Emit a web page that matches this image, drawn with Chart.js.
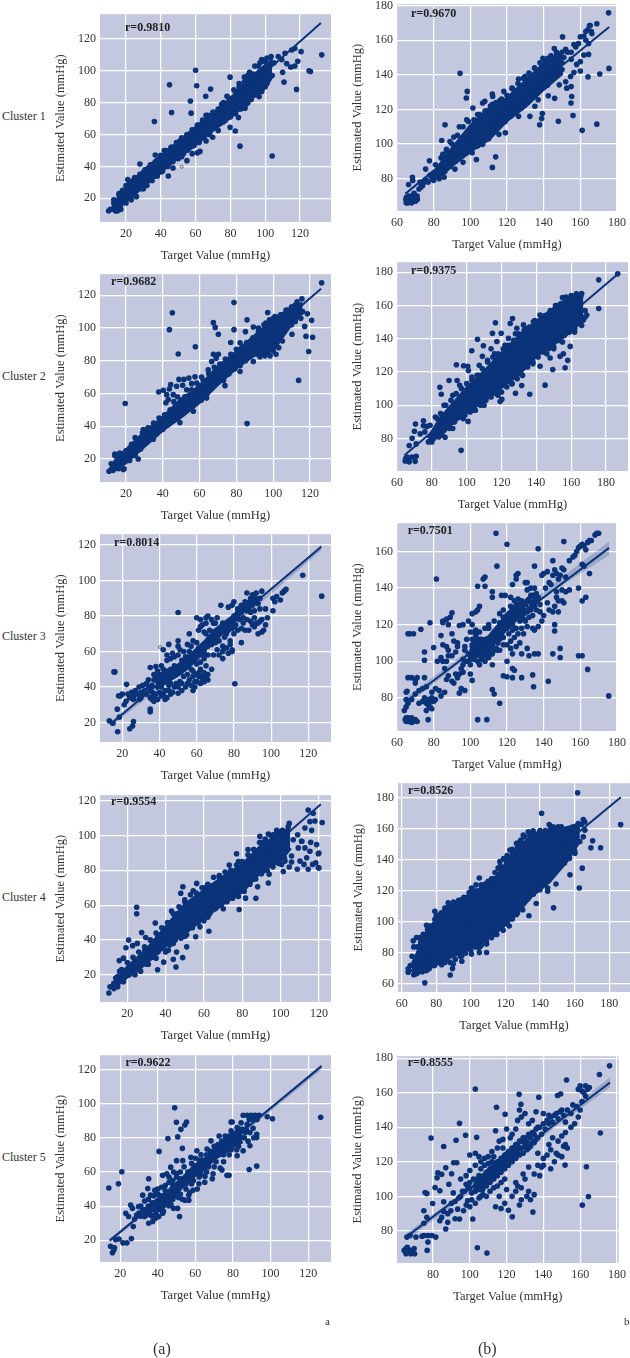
<!DOCTYPE HTML>
<html>
<head>
	<title>Estimated vs target value</title>
	<script src="https://cdn.jsdelivr.net/npm/chart.js@4"></script>
	<style>
		body { margin: 0; background: #fff; width: 630px; height: 1358px; overflow: hidden; position: relative; font-family: "Liberation Serif", serif; color: #333; }
		canvas { position: absolute; }
		.txt { position: absolute; white-space: nowrap; line-height: 14px; }
		.r { font-weight: bold; font-size: 12px; color: #222; }
		.cl { font-size: 12px; }
	</style>
</head>
<body>
	<script>
		// tick labels
		const leftTicks = [20, 40, 60, 80, 100, 120];
		const rightTicks = [60, 80, 100, 120, 140, 160, 180];
		const rightTicksNo60 = [80, 100, 120, 140, 160, 180];
		const shortTicks = [80, 100, 120, 140, 160];
		const rowNames = ["Cluster 1", "Cluster 2", "Cluster 3", "Cluster 4", "Cluster 5"];

		// Cluster 1, column a
		const c1a_r = "r=0.9810";
		const c1a_pts = [[60,100.3],[45,91.2],[60.6,90.6],[68.6,88.5],[65.8,84],[57,81],[46.2,73.8],[57.4,73.4],[36.3,68.2],[79.8,96],[98,107],[118,88.3],[110.8,92.9],[125.2,100],[126,99.5],[132.5,110],[104,46.5],[85.5,52.7],[82.8,62.2],[79.8,64.5],[62.5,49.4],[61,48.5],[55,43.6],[36.8,47.1],[28,41.5],[21,31.8],[44.3,34],[120.6,112],[117,114],[115.2,113],[111.4,111],[107.5,109],[103.4,109],[112.3,104.5],[117,103],[114.6,102.4],[110,99],[109.5,107],[118.7,106],[96,92.5],[96.5,83.8],[91.3,83],[88.4,76.5],[84.6,70.7],[69.8,58.3],[76,68],[73,62.5],[66,56],[58,48],[52,46],[47,39],[40,36.5],[33,31],[30,26],[25,22],[20,19],[17,16],[14,13],[10,12],[11,13],[15,12],[13,17],[16,22],[19,25],[24,31],[27,33],[33,38],[38,44],[42,50],[46,52],[51,56],[56,60],[62,66],[66,72],[70,74],[75,79],[78,84],[83,87],[85,90],[88,93],[90,97],[93,98],[96,103],[99,106],[101,108],[105,105],[100,90],[102,95],[98,87],[94,86],[90,80],[86,78],[80,72],[73,67],[68,60],[62,56],[55,50],[50,45],[44,40],[37,34],[28,28],[23,22]];
		const c1a_edge = [[13,19],[16,23],[18,25],[20,28],[22,30],[25,33],[28,35],[31,38],[34,41],[37,43],[40,47],[43,50],[46,52],[49,55],[52,58],[55,60],[58,63],[61,66],[64,69],[67,72],[70,74],[73,76],[76,80],[79,83],[82,88],[85,92],[88,96],[91,99],[94,103],[97,105],[100,106],[103,108],[14,12],[17,13],[20,17],[23,19],[26,21],[29,26],[32,28],[35,31],[38,34],[41,37],[44,41],[47,43],[50,45],[53,48],[56,51],[59,53],[62,55],[65,60],[68,62],[71,65],[74,67],[77,69],[80,71],[83,73],[86,76],[89,79],[92,82],[95,85],[98,88],[101,92],[104,97]];
		const c1a_open = [[52,39.7]];
		const c1a_coreX = [12, 15, 20, 25, 30, 40, 50, 60, 70, 80, 90, 100, 104];
		const c1a_coreHi = [13, 19, 26, 31, 37, 46, 55, 64, 73, 82, 94, 103, 106];
		const c1a_coreLo = [12, 14, 19, 23, 28, 37, 46, 54, 63, 71, 81, 90, 97];
		const c1a_fitX = [10, 132];
		const c1a_fitY = [12, 130];

		// Cluster 2, column a
		const c2a_r = "r=0.9682";
		const c2a_pts = [[78.7,115.6],[45.2,109.3],[43.6,99],[67.5,103.3],[68.5,100.4],[70.2,96.2],[78.7,99],[85.8,105],[84.9,97.8],[97,109.5],[57.7,88.5],[48.4,84.1],[76.9,91.2],[19.6,53.9],[85.8,41.6],[113.8,68],[119.3,85.7],[121.4,94.4],[117.8,95],[120.9,104.7],[117.1,101],[118.6,108.7],[110.2,96.2],[126.3,127.6],[115.6,117.8],[37.8,60.9],[40.3,61.9],[43.6,62.7],[44.3,65.4],[47.5,64.4],[48.8,68.6],[51.5,68.6],[54.2,69.4],[57.5,70.2],[61.1,70],[50.8,65],[55.7,66],[58.4,66.4],[53,62.3],[55.7,62.3],[42.1,59.3],[43,56.3],[45.7,59.3],[41.7,54.3],[67.5,84],[70.2,84],[69,81.5],[66.6,79.5],[64.7,74.4],[82,91],[85.6,91.2],[81,86.5],[92.8,82.5],[95.5,83],[98.3,83],[101.5,84],[89.2,79.5],[82,73.4],[73.8,64.8],[63.8,57.3],[56.6,49.2],[49.3,42.2],[34.9,32],[26.7,20],[18.6,13.5],[12,13.5],[10.8,12.5],[14,23],[16.7,23.6],[25,33],[29.4,38],[89.2,100.6],[48,58],[52,58],[50,55],[46,55],[60,65],[64,67],[112,114],[108,111],[104,108],[100,106],[96,103],[92,100],[110,102],[105,92],[100,90],[95,88],[114,112],[116,110]];
		const c2a_edge = [[12,17],[14,22],[17,23],[20,25],[23,29],[26,32],[29,36],[32,39],[35,42],[38,45],[41,47],[44,50],[47,53],[50,56],[53,58],[56,60],[59,63],[62,68],[65,72],[68,76],[71,78],[74,81],[77,84],[80,87],[83,88],[86,91],[89,94],[92,98],[95,102],[98,105],[101,107],[104,108],[107,111],[110,113],[113,116],[13,13],[16,14],[19,14],[22,19],[25,22],[28,26],[31,30],[34,33],[37,36],[40,38],[43,41],[46,44],[49,47],[52,50],[55,52],[58,54],[61,56],[64,60],[67,64],[70,67],[73,68],[76,72],[79,75],[82,77],[85,80],[88,83],[91,84],[94,85],[97,85],[100,86],[103,88],[106,98],[109,102],[112,104],[115,106]];
		const c2a_open = [];
		const c2a_coreX = [12, 15, 20, 30, 40, 50, 60, 70, 80, 90, 100, 110, 116];
		const c2a_coreHi = [14, 20, 25, 36, 45, 56, 64, 76, 85, 95, 105, 112, 115];
		const c2a_coreLo = [13, 14, 18, 28, 38, 46, 55, 66, 76, 84, 87, 103, 110];
		const c2a_fitX = [11, 126];
		const c2a_fitY = [13, 124];

		// Cluster 3, column a
		const c3a_r = "r=0.8014";
		const c3a_pts = [[16,48.5],[15.5,48.5],[13,21],[15,19.5],[17.5,14.8],[17.3,27.5],[18,35],[19,35],[22.3,41.5],[18.4,23],[21,30],[22,32],[24,16.5],[25.5,18],[26,20.5],[35,26],[35,27.5],[50,82],[80.5,41.8],[117,103],[127.2,91.2],[23,36],[25,37],[27,38],[26,35],[28,36],[30,37],[30,34],[32,38],[33,42],[34,44],[33,36],[35,34],[36,33],[37,35],[38,36],[35,38],[36,41],[37,44],[38,46],[35,51],[38,51.5],[40,47],[39,43],[41,40],[40,37],[42,36],[44,34],[45,38],[46,42],[43,43],[42,47],[41,52],[44,55],[46,50],[48,52],[49,48],[47,46],[48,40],[50,36.5],[52,38],[54,40],[51,43],[53,46],[56,44],[58,46],[58,38],[62,42],[64,43],[66,47],[68,50],[66,44],[64,48],[62,50],[60,47],[57,50],[54,52],[52,55],[50,58],[47,59],[45,64],[42,61],[44,58],[50,66],[50,63],[53,60],[55,64],[56,57],[58,56],[60,60],[62,58],[64,56],[65,52],[63,63],[60,65],[58,66],[56,70],[61,72],[62,78],[60,79],[63,75],[65,70],[67,68],[66,63],[66,80],[65,76],[68,78],[70,76],[72,72],[70,69],[72,66],[74,63],[76,62],[79,61],[78,66],[75,68],[74,71],[76,74],[78,76],[80,74],[82,72],[84,65],[77,59],[79,60],[72,58],[74,56],[73,86],[80,88],[79,86],[77,85],[82,79],[80,80],[84,82],[86,85],[87,93],[87,78],[85,76],[88,72],[90,75],[92,76],[94,77],[97,75],[93,70],[96,72],[95,71],[88,87],[90,92],[92,90],[93,87],[95,94],[91,83],[94,84],[97,84],[98,79],[101,90],[102,88],[103,91],[105,89],[101,83],[106,93],[108,95],[107,94],[90,88],[89,90],[92,93]];
		const c3a_edge = [[20,36],[24,34],[26,33],[29,33],[31,41],[29,40],[31,36],[34,40],[36,37],[37,32],[39,33],[41,35],[43,38],[45,41],[44,45],[42,50],[39,49],[37,47],[40,44],[43,33],[46,36],[47,37],[49,42],[50,40],[52,42],[55,42],[57,41],[59,40],[60,43],[61,46],[63,46],[55,47],[53,50],[51,49],[49,51],[46,47],[44,49],[48,57],[46,56],[51,61],[54,57],[56,60],[57,63],[59,59],[61,62],[62,61],[64,59],[66,58],[68,64],[70,65],[71,70],[73,73],[69,71],[67,72],[64,71],[62,74],[65,79],[69,76],[71,79],[74,76],[76,70],[75,75],[77,72],[79,73],[81,75],[83,78],[85,79],[82,84],[84,86],[86,88],[88,84],[90,86],[92,88],[94,90],[90,90],[87,83],[89,82],[91,79],[93,76],[95,78],[91,74],[89,77],[86,72],[84,73],[80,70],[78,64],[74,60],[71,61],[69,58],[64,61],[58,49],[60,53],[62,54],[65,46],[63,44],[61,48],[59,43]];
		const c3a_open = [[40.3,62.5]];
		const c3a_coreX = [38, 45, 50, 55, 60, 65, 70, 75, 80, 85, 92];
		const c3a_coreHi = [43, 48, 52, 56, 61, 66, 72, 76, 80, 86, 91];
		const c3a_coreLo = [39, 44, 47, 51, 56, 62, 67, 72, 77, 84, 88];
		const c3a_fitX = [13.4, 127];
		const c3a_fitY = [18.9, 119];
		const c3a_ciX = [13.4, 60, 127];
		const c3a_ciHi = [20.5, 57.5, 120.5];
		const c3a_ciLo = [17.5, 56, 117];

		// Cluster 4, column a
		const c4a_r = "r=0.9554";
		const c4a_pts = [[24.9,58.8],[24.9,55],[20.7,39.9],[19.3,35.5],[22.8,36.7],[25.2,38],[27.5,44.2],[29.6,41.4],[15.8,28.1],[18,29.5],[34.6,49.7],[49,70.6],[47.9,66.8],[43.1,56.6],[54.4,68.3],[56.2,72.5],[62.6,45],[45.4,24.4],[35.8,22.8],[39,27.2],[44,28.9],[48.9,29.8],[45.7,33],[51,36],[35,29.5],[29.2,34.2],[41.4,34],[55.7,41.8],[57.9,47.5],[78.4,57.5],[81.7,64],[87.1,63.9],[88,70.6],[77,89.5],[73.2,83],[83,92],[89.2,99.5],[93.6,100.9],[94,77.8],[93.6,72.7],[101.4,79.3],[104.5,81.9],[108.7,80.6],[114.4,80.6],[118.4,84.4],[119.7,81.6],[116.7,83.4],[112.2,83.4],[110.1,85.3],[105.7,84.8],[102.3,85.3],[100.5,83.4],[113.6,87.2],[119.7,89.5],[115.3,91],[118.8,94.8],[115.7,96.1],[111,96.7],[112.7,92.9],[109.2,92.9],[105.7,88.2],[114.4,114.7],[117,112.8],[115.3,108],[117.9,108.4],[121.7,107.5],[116.2,103],[112.7,104.3],[104.5,107],[100.5,102.4],[96.2,100.5],[108.9,100.5],[111,96.7],[106.6,97.6],[103.1,94.8],[97.9,91],[94.3,84.4],[91,79.7],[85.7,74.9],[82.3,74],[77,67.3],[70.1,57.9],[120,90],[120,81.3],[10.4,9.5],[11,13],[13,12],[16,22],[15,19],[13,15],[50,62],[46,55],[42,48],[36,42],[33,39],[64,71],[68,76],[60,70],[72,78],[78,85],[86,92],[90,96],[98,103],[62,53],[66,59],[70,64],[74,66],[82,80],[86,78],[94,88],[44,38],[40,33],[31,26],[27,22],[24,20],[55,50],[50,42]];
		const c4a_edge = [[14,18],[17,23],[20,27],[23,30],[26,33],[29,36],[32,40],[35,44],[38,47],[41,50],[44,55],[47,59],[50,63],[53,66],[56,67],[59,70],[62,72],[65,76],[68,77],[71,79],[74,80],[77,83],[80,85],[83,89],[86,92],[89,96],[92,98],[95,100],[98,102],[101,103],[104,105],[15,13],[18,16],[21,20],[24,22],[27,25],[30,26],[33,30],[36,33],[39,35],[42,37],[45,40],[48,41],[51,43],[54,47],[57,50],[60,51],[63,55],[66,58],[69,60],[72,62],[75,64],[78,65],[81,68],[84,72],[87,75],[90,78],[93,80],[96,82],[99,84],[102,87]];
		const c4a_open = [];
		const c4a_coreX = [12, 20, 30, 40, 50, 60, 70, 80, 90, 100, 105];
		const c4a_coreHi = [13, 24, 34, 47, 60, 68, 76, 83, 94, 101, 104];
		const c4a_coreLo = [12, 19, 27, 37, 44, 53, 61, 68, 80, 86, 93];
		const c4a_fitX = [10.4, 121];
		const c4a_fitY = [12, 118];

		// Cluster 5, column a
		const c5a_r = "r=0.9622";
		const c5a_pts = [[14,50.6],[19.1,53.1],[20.9,60.1],[49,97.5],[49.9,89],[55.3,89.2],[54.4,87.4],[52.3,84.9],[45.4,79.5],[50.6,80.5],[40.7,72],[53.1,73.8],[126.6,92],[101,91.1],[98.2,92.3],[92.6,63.4],[88.6,61.4],[76.8,58],[77.9,58],[73.2,62.2],[74.1,61.2],[51.6,33.9],[26,21],[21.5,18.5],[23.6,18.5],[19.4,20.8],[17.6,20.4],[14.9,16.5],[17,15.6],[15.9,12.7],[16.6,14.2],[27,28],[23,35.8],[25.6,40.6],[26.6,38.7],[24.5,33.9],[28.8,34.8],[29.8,39.7],[32,37.7],[27.7,32.5],[33,33.9],[35.2,30],[37.3,31],[34.7,50.3],[35.2,56],[36.2,46.4],[38.4,49.3],[32,46.4],[42.6,58],[44.8,58.9],[48.4,59.9],[46.9,62.8],[50,66.6],[53.3,66.6],[57.6,68.6],[60.8,72.4],[66.2,73.4],[40.5,33.9],[45.9,40.2],[48.4,38.7],[50.6,38.7],[42.6,35.8],[54.4,43.5],[56.5,43.5],[58.7,49.3],[56.5,46.4],[65.1,57.4],[61.9,53.1],[69.4,58.9],[82.2,69.5],[85.4,72.4],[89,75.3],[92.6,80.1],[92.6,82],[85.4,93.2],[87.6,93.2],[89.7,93.2],[91.8,93.2],[93.9,93.2],[88.6,90.7],[90.7,90.7],[92.8,90.7],[87.5,87.8],[84.3,88.8],[90.7,85.5],[79.6,89.2],[79,89.2],[82.2,85.9],[72.6,81],[68.3,78.2],[75.8,81],[79,84],[86.5,83],[84.3,80.1],[38,46],[40,50],[42,46],[44,52],[46,54],[48,55],[50,57],[52,60],[39,36],[41,38],[36,35],[34,38],[33,43],[35,44],[38,41],[43,40],[46,45],[48,44],[52,47],[55,50],[58,53],[62,57],[66,60],[70,63],[75,66],[78,70],[82,73],[60,68],[63,70],[68,72],[72,76],[76,79],[80,82],[84,85],[86,80],[88,78]];
		const c5a_edge = [[30,36],[31,34],[34,35],[37,38],[39,40],[41,44],[42,42],[44,45],[45,48],[47,47],[49,50],[51,51],[52,53],[54,55],[56,55],[57,58],[59,58],[60,60],[61,62],[63,62],[64,64],[65,65],[67,66],[69,67],[71,70],[73,72],[74,74],[76,73],[77,75],[79,76],[81,78],[83,79],[83,75],[79,73],[75,70],[71,66],[67,63],[63,59],[59,55],[55,53],[51,45],[47,41],[43,37],[39,33],[35,40],[37,42],[40,47],[44,49],[48,52],[52,56],[56,60],[60,63],[64,67],[68,70],[72,74],[76,76],[80,79],[42,51],[46,57],[50,59],[54,63],[58,65],[62,67],[66,70],[70,75],[74,78],[78,81],[82,83],[85,85],[87,85],[89,83],[91,80],[45,44],[49,46],[53,44],[57,48],[61,50],[65,54],[69,56],[61,59],[37,34],[33,38],[31,40],[36,38]];
		const c5a_open = [];
		const c5a_coreX = [38, 45, 50, 55, 60, 65, 70, 75, 80, 85];
		const c5a_coreHi = [42, 48, 53, 58, 64, 67, 73, 77, 81, 84];
		const c5a_coreLo = [37, 42, 48, 54, 59, 62, 68, 71, 75, 78];
		const c5a_fitX = [14.4, 127.1];
		const c5a_fitY = [19.8, 121.9];
		const c5a_ciX = [14.4, 60, 127.1];
		const c5a_ciHi = [21, 60.5, 123.2];
		const c5a_ciLo = [18.5, 59.5, 119.8];

		// Cluster 1, column b
		const c1b_r = "r=0.9670";
		const c1b_pts = [[175.4,175.8],[169,169.5],[165.4,168.5],[150.3,161.9],[175.6,143.7],[170.6,140.5],[164.2,138.8],[169,111.5],[161,107.9],[156,116.5],[148,113.2],[137.8,111.1],[138.9,114.7],[139.3,117.6],[154.9,123.7],[155.3,127.5],[155,133.2],[152.6,132.3],[146,126.4],[142.5,127.9],[94.4,140.9],[98.3,130.4],[97.8,126.6],[86.2,111.1],[112,86.5],[113.8,92.6],[103.3,91],[84.4,102],[88.9,101.4],[101.4,120.8],[106.7,123.7],[107.9,124.7],[112,128.9],[112.2,127.5],[118.3,130.4],[126.3,137.6],[122.7,132.3],[129.8,139],[135.2,139.9],[139.6,149.5],[142.3,149.5],[145.8,155.2],[152,154.8],[156.5,157.5],[160,162],[161.9,162.3],[165,168.5],[166.3,163.8],[164.5,158],[164.5,151.8],[161.9,151.4],[160,147.6],[160,142.2],[156.5,141.3],[154.7,139],[152,136],[148.5,134.2],[64.9,67.8],[66.7,67.4],[68.4,68.4],[70.2,69.3],[71.1,68],[66.3,69.9],[69.3,71.6],[66.3,76.6],[68.4,80.8],[68.6,78.9],[72.5,77.9],[74.7,77.9],[75.6,85.5],[77.7,90.3],[85.7,80.8],[91.6,85.5],[96,89.4],[106.7,99.8],[115.6,105.6],[119.1,106.5],[126.3,116],[132.5,116],[135.2,121.8],[137,125.6],[151,150],[153,153],[155,153],[157.5,156],[159,158],[163,160],[164,166],[163,165],[166,165],[150,147],[155,149],[158,146],[85,94],[87,97],[91,104],[94,110],[98,114],[104,117],[109,119],[112,123],[116,125],[123,128],[128,133],[131,136],[136,138],[144,146],[147,151],[100,102],[104,99],[109,104],[112,108],[117,112],[122,117],[128,122],[134,127],[142,134],[146,140],[150,143]];
		const c1b_edge = [[78,82],[81,88],[84,92],[87,96],[90,100],[93,105],[96,110],[99,113],[102,114],[105,117],[108,119],[111,122],[114,124],[117,126],[120,128],[123,132],[126,135],[129,138],[132,141],[135,144],[138,147],[141,148],[144,151],[147,153],[150,153],[80,79],[83,80],[86,84],[89,87],[92,90],[95,93],[98,95],[101,95],[104,99],[107,102],[110,103],[113,107],[116,111],[119,113],[122,116],[125,119],[128,121],[131,124],[134,128],[137,131],[140,133],[143,136],[146,139],[149,141],[72,74],[73,75],[76,79],[77,78],[74,76],[79,82],[65,66],[66,68],[67,69],[68,66],[69,69],[70,67],[71,70],[66,66],[68,70],[65,69]];
		const c1b_open = [];
		const c1b_coreX = [78, 85, 90, 100, 110, 120, 130, 140, 150];
		const c1b_coreHi = [80, 90, 97, 110, 120, 126, 136, 146, 152];
		const c1b_coreLo = [79, 83, 88, 96, 103, 114, 122, 132, 141];
		const c1b_fitX = [64.5, 175.7];
		const c1b_fitY = [71.2, 167.6];

		// Cluster 2, column b
		const c2b_r = "r=0.9375";
		const c2b_pts = [[186.7,179],[175.8,175.4],[175.8,158.2],[155,164.7],[116.5,149.6],[126.3,152.2],[125,149.2],[106.2,139.7],[114.8,143.3],[119.8,143.3],[117.3,138.3],[109.6,135.8],[114,134],[102.9,132.8],[109,129.4],[94.1,124.4],[98.2,123.8],[100.6,123.5],[107.2,124],[101,120.9],[89.9,114.9],[94.5,114.9],[84.6,110.8],[85.4,106.6],[96.8,72.9],[100.8,90.3],[87.6,80.8],[70.6,88.7],[70,84.4],[68.7,80.2],[67,75.8],[71,76.8],[75.2,90.7],[75.2,87.7],[77.1,87.3],[73.3,82.8],[136.2,106.6],[128,107.2],[145,112.1],[149.4,121.5],[156.5,122.5],[158,127],[155.5,131],[159.4,135.4],[153.6,129.4],[147.9,128.4],[142.1,123.5],[120.2,103.6],[119.2,102.2],[131.6,111.9],[168.9,154.2],[167,151.2],[166,167.1],[163,166.7],[154.8,159.2],[142.1,154.2],[138.3,150.2],[132.6,148.3],[128.8,146.3],[124,140.3],[119.2,129.4],[64.7,66.5],[66.6,67.9],[68.5,68.9],[70.4,66.3],[71,69.3],[65.7,68.9],[65,68],[67,66],[83,92],[87,100],[92,106],[96,112],[103,117],[107,118],[112,127],[116,131],[122,136],[128,143],[134,146],[140,150],[146,154],[152,160],[158,163],[162,165],[165,160],[168,157],[166,148],[162,144],[155,138],[150,134],[146,131],[138,126],[132,118],[126,113],[118,106],[110,100],[104,97],[98,92],[92,86],[86,82],[80,78]];
		const c2b_edge = [[76,84],[79,88],[82,93],[85,95],[88,100],[91,103],[94,107],[97,110],[100,113],[103,115],[106,118],[109,122],[112,126],[115,129],[118,131],[121,134],[124,136],[127,139],[130,143],[133,145],[136,147],[139,151],[142,151],[145,154],[148,157],[151,160],[154,161],[157,165],[160,166],[163,167],[78,78],[81,80],[84,81],[87,85],[90,86],[93,90],[96,93],[99,94],[102,96],[105,97],[108,100],[111,103],[114,105],[117,107],[120,108],[123,111],[126,113],[129,116],[132,118],[135,123],[138,125],[141,129],[144,132],[147,134],[150,135],[153,139],[156,142],[159,144],[162,146],[165,150],[168,153]];
		const c2b_open = [];
		const c2b_coreX = [78, 85, 90, 100, 110, 120, 130, 140, 150, 160, 167];
		const c2b_coreHi = [80, 92, 98, 110, 120, 131, 141, 150, 158, 165, 166];
		const c2b_coreLo = [78, 83, 88, 96, 103, 111, 119, 130, 137, 145, 152];
		const c2b_fitX = [64.3, 187];
		const c2b_fitY = [69.9, 179];

		// Cluster 3, column b
		const c3b_r = "r=0.7501";
		const c3b_pts = [[114,170],[120,164],[137,161.5],[151,165.5],[114.5,152],[135,152],[81.5,145],[175.5,81],[164,95.5],[142.5,89],[134.5,86],[134,92.5],[123,91],[120,91.5],[118,92],[116,77],[112,84.5],[113,82],[109,68],[104,68],[64,73],[65,75],[76,73],[77,68],[65,67],[66,69],[67,67],[68,69],[69,67],[70,68],[71,67],[65,69],[67,68.5],[66,67],[68,66.5],[64.5,68],[65,83],[65.5,83.5],[66,91],[68,91],[70,90],[71,91],[70,88],[66,115],[67,115],[69,115],[73,117.5],[78,121],[75,105],[75,100.5],[80,107.5],[75,91],[65,79],[66,77],[68,79],[70,82],[72,84],[74,85],[76,86],[79,83],[81,85],[83,84],[84,81],[86,83],[72,77],[74,78],[75,80],[76,77],[77,76],[78,78],[79,80],[80,78],[81,79],[77,79],[78,75],[79,74],[85,122],[87,123],[85,121],[84,114],[85,109],[87,108],[88,106],[90,115],[91,111],[90,126.5],[89,124],[88,120],[94,119.5],[96,120],[93,110],[93,108],[90,103],[88,103],[87,100],[85,100],[82,100],[84,102],[86,96],[88,92],[87,90],[90,89],[92,93],[94,93],[93,91],[91,88],[95,85],[94,82.5],[97,84],[96,94],[100,93],[101,89.5],[92,105],[96,101],[97,108],[98,112],[99,122],[101,126],[103,127],[105,130],[104,128],[101,120],[103,117],[102,116],[104,141],[108,141],[107,145],[108,146],[112,138],[112,135],[117,136],[119,136],[122,135],[125,147],[126,148],[125,145],[123,142],[130,143],[131,143],[133,140],[135,140],[137,135],[131,139],[133,132],[138,127],[139,122],[137,119],[135,117],[134,118],[131,119],[129,115],[127,110],[125,108],[122,107],[123,104],[120,100],[123,96],[124,95],[128,91],[132,103],[135,104],[137,104],[131,107],[128,104],[145,104],[146,116.5],[146,120],[149,107],[149,102],[159,103],[161,103],[161,133],[163,135],[159,140],[165,148],[161,153],[162,152],[143,143],[145,147],[147,148],[149,147],[151,150],[148,145],[146,150],[145,155],[142,149],[140,148],[139,147],[150,151],[152,146],[144,142],[141,140],[147,138],[150,139],[152,138],[154,139],[148,133],[147,135],[150,133],[151,132],[148,127],[145,127],[143,128],[142,132],[140,125],[138,131],[136,128],[146,130],[154,155],[156,157],[158,160],[159,162],[160,163],[161,164],[162,163],[163,161],[164,165],[165,166],[166,166],[168,169],[169,170],[170,170],[157,158],[100,103],[101,106],[102,108],[103,110],[104,105],[105,112],[106,109],[107,104],[108,107],[109,110],[110,106],[111,113],[112,109],[113,116],[114,112],[115,118],[116,121],[117,115],[118,120],[119,124],[120,118],[121,122],[122,126],[123,120],[124,128],[125,124],[126,131],[127,127],[128,133],[129,128],[130,131],[131,127],[132,134],[133,128],[134,136],[135,130],[136,133],[100,98],[102,101],[104,100],[106,101],[108,100],[110,102],[112,104],[103,114],[105,116],[108,118],[110,120],[113,122],[116,126],[118,128],[120,125],[122,130],[124,133],[126,134],[114,107],[116,106],[118,109],[120,109],[122,111],[124,113],[126,115],[128,118],[130,122],[132,124],[134,125],[115,110],[118,113],[121,115],[123,117],[125,118],[127,122],[129,123],[112,98]];
		const c3b_edge = [[100,101],[101,109],[103,103],[105,107],[106,112],[107,111],[109,103],[110,110],[111,104],[112,112],[113,106],[114,115],[115,106],[116,112],[117,118],[118,124],[119,119],[120,122],[121,126],[122,120],[123,127],[124,123],[125,130],[126,126],[127,130],[128,126],[129,131],[130,127],[131,133],[132,129],[133,136],[134,131],[135,134],[136,137],[95,96],[98,100],[96,98],[99,104],[97,106],[102,104],[104,112],[106,106],[108,103],[110,118],[105,98],[101,112],[100,116]];
		const c3b_open = [];
		const c3b_coreX = [100, 105, 110, 115, 120, 125, 130];
		const c3b_coreHi = [107, 111, 113, 119, 125, 131, 132];
		const c3b_coreLo = [103, 103, 106, 113, 118, 123, 126];
		const c3b_fitX = [64.5, 175.7];
		const c3b_fitY = [77.7, 162];
		const c3b_ciX = [64.5, 110, 150, 175.7];
		const c3b_ciHi = [80, 114, 146, 165.5];
		const c3b_ciLo = [75.5, 111.5, 141.5, 158];

		// Cluster 4, column b
		const c4b_r = "r=0.8526";
		const c4b_pts = [[161.7,183.4],[140.9,170.2],[145.3,162.9],[186.6,162.9],[170.4,152.5],[169.4,148],[175,148],[164.4,134.8],[157.3,130.5],[162.7,122],[149.2,124.6],[144.4,122],[144.4,119.9],[137.8,112],[147.8,109.2],[133.6,104.1],[73.4,60.8],[88.1,65.9],[89.4,70],[94.8,74.7],[79.2,107],[74.4,97.9],[109.1,80.4],[104.9,80.4],[133.2,158.3],[136,158.9],[139.9,158.3],[141.9,156],[147.6,161.4],[150.5,161.4],[152.3,161.4],[147.6,157.2],[152.3,157.2],[156.3,160.4],[159.2,161.4],[162.1,163.6],[165,166.1],[165.9,164.6],[165.9,159.3],[165,155],[161.1,150.8],[160.2,144.4],[156.3,141.2],[152.3,136.9],[147.6,132.7],[141.9,126.3],[139.9,120.9],[134.1,117.7],[130.3,113.5],[126.4,104.9],[122.2,97.5],[118.7,94.7],[113.9,92.2],[109.1,85.8],[104.9,83.6],[100.4,79.4],[94.8,78.3],[89.8,73],[83.1,72.5],[78.3,75.1],[74.4,68.7],[68.6,66.6],[63.8,67.6],[63.8,69.8],[66.7,87.9],[68.6,90],[70.6,90],[72.5,92.2],[76.3,97.5],[79.2,101.7],[82.1,104.9],[86.9,112.4],[89.8,111.3],[94.8,114.5],[100.4,122],[104.9,128.4],[110.1,126.3],[115.8,134.8],[116.8,139],[122.6,146.5],[126.4,150.8],[130.3,156.1],[128.4,151.9],[65,72],[66,78],[67,84],[70,84],[73,88],[78,94],[84,100],[88,106],[92,110],[98,116],[103,120],[108,124],[113,128],[118,134],[120,140],[124,144],[128,148],[132,150],[70,70],[76,72],[80,74],[86,76],[92,80],[98,84],[103,86],[108,90],[112,94],[118,98],[124,102],[130,108],[136,118],[140,124],[146,130],[150,135],[156,142]];
		const c4b_edge = [[69,84],[71,87],[73,91],[75,95],[77,96],[80,104],[83,106],[85,109],[87,110],[90,113],[93,114],[96,116],[99,119],[101,121],[103,124],[106,124],[109,125],[112,128],[114,132],[117,136],[119,141],[121,143],[124,147],[127,149],[129,153],[131,155],[134,156],[137,157],[140,159],[143,159],[146,160],[149,160],[155,160],[158,161],[161,162],[164,163],[67,66],[70,68],[72,68],[76,70],[79,72],[82,74],[85,74],[88,74],[91,76],[94,78],[97,80],[100,82],[103,84],[106,85],[109,88],[112,90],[115,92],[118,96],[121,99],[124,103],[127,106],[130,112],[133,115],[136,118],[139,121],[142,125],[145,127],[148,132],[151,136],[154,138],[157,141],[160,146],[163,152]];
		const c4b_open = [];
		const c4b_coreX = [66, 75, 85, 95, 105, 115, 125, 135, 145, 155, 163];
		const c4b_coreHi = [72, 94, 108, 114, 121, 129, 145, 155, 158, 159, 161];
		const c4b_coreLo = [67, 70, 76, 81, 86, 94, 104, 117, 126, 139, 153];
		const c4b_fitX = [63.2, 186.7];
		const c4b_fitY = [66.6, 180.6];

		// Cluster 5, column b
		const c5b_r = "r=0.8555";
		const c5b_pts = [[103,162.2],[176,175.6],[170.5,170.6],[152.6,167.4],[171,136.7],[163.4,117.2],[164.5,99.9],[161.2,94.9],[151.8,118.1],[94.4,142.3],[78.9,133.8],[92.5,132.5],[85.8,128.9],[97.7,135.4],[103.7,134.2],[126.8,159.1],[137.5,157.4],[147.7,158.4],[149.4,159.3],[114.5,151.6],[119.2,147.6],[127.8,153.4],[104.1,70.2],[109.3,67.2],[134.3,90.9],[123.1,88.2],[65.3,69.7],[67.5,68.7],[69.7,69.7],[65.3,66.8],[67.9,66.8],[70,66.8],[64.3,68.7],[66,70.5],[68.5,67.5],[76.8,68.7],[77.2,73.5],[75,77.3],[77.2,77.3],[79.4,77.3],[81.5,76.4],[74,76.9],[70.7,76.4],[65.8,76.4],[67.5,77.3],[75,84.4],[76.6,87.9],[75,91.7],[75.7,102.2],[76.6,101.6],[81.1,105.1],[82.6,113.7],[82.2,110.8],[84.7,112.8],[86.9,116.6],[90.1,113.1],[91.2,119.5],[92.9,119.5],[88.6,107],[83.7,103.2],[79.8,95.9],[85.8,96.9],[85.8,91.3],[83.7,85.9],[88,85],[86.9,81.1],[84.7,87.9],[89.7,91.7],[94.4,86.9],[101.6,86.9],[93.4,92.6],[96.6,91.7],[98.8,97.4],[95,100],[97,103],[99,105],[100,108],[101,102],[103,106],[104,110],[105,104],[106,100],[107,109],[108,112],[109,106],[110,114],[111,108],[112,116],[113,110],[114,118],[115,112],[116,120],[117,114],[118,122],[119,116],[120,124],[121,118],[122,126],[123,120],[124,128],[125,122],[126,130],[127,124],[128,132],[129,125],[130,134],[131,127],[132,136],[133,129],[134,137],[135,131],[136,139],[137,134],[138,140],[139,136],[140,142],[141,139],[142,144],[143,142],[144,146],[145,143],[146,147],[147,148],[148,145],[149,149],[150,150],[151,147],[152,143],[100,124],[103,125],[105,123],[106,120],[108,122],[108,118],[110,123],[112,126],[113,123],[115,128],[116,132],[114,138],[118,133],[120,139],[122,134],[123,136],[125,139],[126,144],[127,150],[128,146],[130,148],[132,142],[134,144],[136,149],[137,140],[140,148],[143,147],[118,128],[114,94],[117,93],[119,96],[121,92],[116,100],[120,104],[123,100],[125,108],[126,106],[128,105],[130,110],[131,100],[132,103],[133,98],[135,101],[128,98],[127,95],[125,103],[129,113],[132,117],[135,113],[137,118],[139,117],[140,122],[142,124],[144,127],[147,125],[148,124],[150,123],[151,129],[152,130],[153,128],[146,120],[144,116],[140,118],[138,112],[137,125],[143,130],[145,134],[148,132],[150,135],[152,137],[155,140],[157,142],[159,146],[160,150],[155,148],[158,152],[161,155],[163,158],[164,162],[165,163],[162,160],[160,164],[159,162],[161,161],[163,164],[156,153],[153,150]];
		const c5b_edge = [[96,103],[98,107],[100,105],[102,110],[103,103],[105,112],[106,107],[107,104],[108,109],[109,114],[110,110],[111,116],[112,112],[113,119],[114,114],[115,120],[116,116],[117,122],[118,118],[119,124],[120,120],[121,126],[122,122],[123,128],[124,124],[125,130],[126,126],[127,132],[128,128],[129,134],[130,130],[131,132],[132,128],[133,134],[134,131],[135,136],[136,133],[101,98],[103,96],[105,99],[107,101],[109,100],[111,103],[113,105],[115,106],[117,108],[119,110],[92,97],[94,99],[90,96],[91,102],[88,90],[92,87],[98,95],[100,94],[95,110],[98,112],[100,115],[103,118],[106,116],[110,119],[112,120]];
		const c5b_open = [];
		const c5b_coreX = [102, 107, 112, 117, 122, 127];
		const c5b_coreHi = [108, 112, 117, 122, 127, 131];
		const c5b_coreLo = [103, 106, 111, 115, 120, 125];
		const c5b_fitX = [65.3, 176.3];
		const c5b_fitY = [76.4, 166];
		const c5b_ciX = [65.3, 110, 150, 176.3];
		const c5b_ciHi = [78.5, 112.5, 147, 169];
		const c5b_ciLo = [74.5, 110, 143, 163];

		// layout: plot box left/top/right/bottom in px, axis limits, r label and row label spots
		const panels = [
			{ pts: c1a_pts.concat(c1a_edge), open: c1a_open, coreX: c1a_coreX, coreHi: c1a_coreHi, coreLo: c1a_coreLo, fitX: c1a_fitX, fitY: c1a_fitY, r: c1a_r, box: [100, 12, 331, 222], xLim: [5.06, 137.8], yLim: [5.1, 135.5], xT: leftTicks, yT: leftTicks, rAt: [125, 27] },
			{ pts: c2a_pts.concat(c2a_edge), open: c2a_open, coreX: c2a_coreX, coreHi: c2a_coreHi, coreLo: c2a_coreLo, fitX: c2a_fitX, fitY: c2a_fitY, r: c2a_r, box: [100, 272, 331, 482], xLim: [5.9, 131.4], yLim: [5.9, 132.9], xT: leftTicks, yT: leftTicks, rAt: [111, 281] },
			{ pts: c3a_pts.concat(c3a_edge), open: c3a_open, coreX: c3a_coreX, coreHi: c3a_coreHi, coreLo: c3a_coreLo, fitX: c3a_fitX, fitY: c3a_fitY, ciX: c3a_ciX, ciHi: c3a_ciHi, ciLo: c3a_ciLo, r: c3a_r, box: [100, 532.3, 331, 742.7], xLim: [8, 132.2], yLim: [9, 126.1], xT: leftTicks, yT: leftTicks, rAt: [114, 541.7] },
			{ pts: c4a_pts.concat(c4a_edge), open: c4a_open, coreX: c4a_coreX, coreHi: c4a_coreHi, coreLo: c4a_coreLo, fitX: c4a_fitX, fitY: c4a_fitY, r: c4a_r, box: [100, 793.3, 331, 1002.7], xLim: [5.76, 126.3], yLim: [4.3, 123.2], xT: leftTicks, yT: leftTicks, rAt: [111, 801.3] },
			{ pts: c5a_pts.concat(c5a_edge), open: c5a_open, coreX: c5a_coreX, coreHi: c5a_coreHi, coreLo: c5a_coreLo, fitX: c5a_fitX, fitY: c5a_fitY, ciX: c5a_ciX, ciHi: c5a_ciHi, ciLo: c5a_ciLo, r: c5a_r, box: [100, 1053.3, 331, 1262.7], xLim: [9.3, 132.1], yLim: [7.3, 128.3], xT: leftTicks, yT: leftTicks, rAt: [125.4, 1062] },
			{ pts: c1b_pts.concat(c1b_edge), open: c1b_open, coreX: c1b_coreX, coreHi: c1b_coreHi, coreLo: c1b_coreLo, fitX: c1b_fitX, fitY: c1b_fitY, r: c1b_r, box: [397, 2, 622, 210.7], xLim: [60, 180], yLim: [61.3, 180.8], xT: rightTicks, yT: rightTicksNo60, rAt: [411, 13.3] },
			{ pts: c2b_pts.concat(c2b_edge), open: c2b_open, coreX: c2b_coreX, coreHi: c2b_coreHi, coreLo: c2b_coreLo, fitX: c2b_fitX, fitY: c2b_fitY, r: c2b_r, box: [397, 260, 628, 470.7], xLim: [60, 192.6], yLim: [60.5, 186], xT: rightTicks, yT: rightTicksNo60, rAt: [411, 270] },
			{ pts: c3b_pts.concat(c3b_edge), open: c3b_open, coreX: c3b_coreX, coreHi: c3b_coreHi, coreLo: c3b_coreLo, fitX: c3b_fitX, fitY: c3b_fitY, ciX: c3b_ciX, ciHi: c3b_ciHi, ciLo: c3b_ciLo, r: c3b_r, box: [397, 520.7, 622, 731], xLim: [60, 180], yLim: [61.8, 175.5], xT: rightTicks, yT: shortTicks, rAt: [407.7, 530] },
			{ pts: c4b_pts.concat(c4b_edge), open: c4b_open, coreX: c4b_coreX, coreHi: c4b_coreHi, coreLo: c4b_coreLo, fitX: c4b_fitX, fitY: c4b_fitY, r: c4b_r, box: [398.3, 781, 630, 991.7], xLim: [57.9, 192], yLim: [54.9, 189.6], xT: rightTicks, yT: rightTicks, rAt: [408, 790] },
			{ pts: c5b_pts.concat(c5b_edge), open: c5b_open, coreX: c5b_coreX, coreHi: c5b_coreHi, coreLo: c5b_coreLo, fitX: c5b_fitX, fitY: c5b_fitY, ciX: c5b_ciX, ciHi: c5b_ciHi, ciLo: c5b_ciLo, r: c5b_r, box: [396.5, 1054, 621.5, 1262.7], xLim: [60.4, 181], yLim: [61.4, 181.2], xT: rightTicksNo60, yT: rightTicksNo60, rAt: [407.8, 1062] }
		];
		const rowY = [116, 376, 636, 897, 1157];

		const BLUE = "#0b3379";
		const INK = "#333";
		const M_LEFT = 48, M_RIGHT = 9, M_TOP = 9, M_BOTTOM = 44;

		Chart.defaults.font.family = '"Liberation Serif", serif';
		Chart.defaults.color = INK;

		const plotBg = {
			id: "plotBg",
			beforeDraw(chart) {
				const a = chart.chartArea;
				chart.ctx.fillStyle = "#c3c8de";
				chart.ctx.fillRect(a.left, a.top, a.width, a.height);
			}
		};

		function xy(xs, ys) {
			return xs.map((x, i) => ({ x: x, y: ys[i] }));
		}

		function addText(str, x, y, cls, extra) {
			const d = document.createElement("div");
			d.className = "txt " + cls;
			d.textContent = str;
			d.style.left = x + "px";
			d.style.top = (y - 7) + "px";
			if (extra) Object.assign(d.style, extra);
			document.body.appendChild(d);
		}

		function axis(lim, vals, title, isX) {
			return {
				type: "linear",
				min: lim[0],
				max: lim[1],
				afterBuildTicks: s => { s.ticks = vals.map(v => ({ value: v })); },
				afterFit: s => { if (isX) s.height = M_BOTTOM; else s.width = M_LEFT; },
				grid: { color: "#ffffff", lineWidth: 1.2, drawTicks: false },
				border: { display: false },
				ticks: { font: { size: 12 }, color: INK, padding: isX ? 5 : 4, maxRotation: 0, autoSkip: false },
				title: { display: true, text: title, font: { size: 12.5 }, color: INK, padding: isX ? { top: 0, bottom: 3 } : { top: 1, bottom: 0 } }
			};
		}

		panels.forEach(p => {
			const [l, t, r, b] = p.box;
			const c = document.createElement("canvas");
			c.width = Math.round(r - l + M_LEFT + M_RIGHT);
			c.height = Math.round(b - t + M_TOP + M_BOTTOM);
			c.style.left = (l - M_LEFT) + "px";
			c.style.top = (t - M_TOP) + "px";
			document.body.appendChild(c);

			const datasets = [
				{ type: "line", data: xy(p.fitX, p.fitY), borderColor: BLUE, borderWidth: 2, pointRadius: 0, order: 0 },
				{ type: "scatter", data: p.pts.map(q => ({ x: q[0], y: q[1] })), backgroundColor: BLUE, borderColor: BLUE, borderWidth: 0, pointRadius: 2.8, order: 1 },
				{ type: "scatter", data: p.open.map(q => ({ x: q[0], y: q[1] })), backgroundColor: "transparent", borderColor: "#444", borderWidth: 0.7, pointRadius: 1.5, order: 1 },
				// thick outline closes the gaps between the filled core and the points along its edge
				{ type: "line", data: xy(p.coreX, p.coreHi), borderColor: BLUE, borderWidth: 4, backgroundColor: BLUE, pointRadius: 0, fill: "+1", order: 2 },
				{ type: "line", data: xy(p.coreX, p.coreLo), borderColor: BLUE, borderWidth: 4, pointRadius: 0, fill: false, order: 2 }
			];
			if (p.ciX) {
				datasets.push(
					{ type: "line", data: xy(p.ciX, p.ciHi), borderWidth: 0, backgroundColor: "rgba(11,51,121,0.22)", pointRadius: 0, fill: "+1", order: 3 },
					{ type: "line", data: xy(p.ciX, p.ciLo), borderWidth: 0, pointRadius: 0, fill: false, order: 3 }
				);
			}

			new Chart(c, {
				type: "scatter",
				data: { datasets: datasets },
				options: {
					responsive: false,
					animation: false,
					devicePixelRatio: 1,
					layout: { padding: { top: M_TOP, right: M_RIGHT, left: 0, bottom: 0 } },
					plugins: { legend: { display: false }, tooltip: { enabled: false } },
					scales: {
						x: axis(p.xLim, p.xT, "Target Value (mmHg)", true),
						y: axis(p.yLim, p.yT, "Estimated Value (mmHg)", false)
					}
				},
				plugins: [plotBg]
			});

			addText(p.r, p.rAt[0], p.rAt[1], "r");
		});

		rowNames.forEach((n, i) => addText(n, 2, rowY[i], "cl"));
		addText("a", 325, 1321, "", { fontSize: "11px" });
		addText("b", 624, 1321, "", { fontSize: "11px" });
		addText("(a)", 153, 1349, "", { fontSize: "16px" });
		addText("(b)", 478, 1349, "", { fontSize: "16px" });
	</script>
</body>
</html>
